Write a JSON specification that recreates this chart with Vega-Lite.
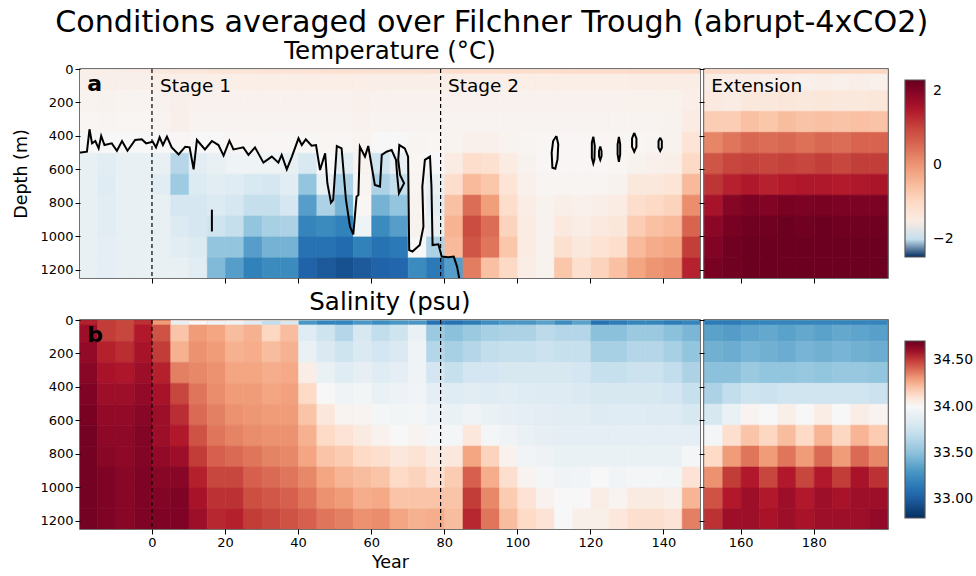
{"$schema":"https://vega.github.io/schema/vega-lite/v6.json","background":"white","padding":{"left":12,"top":7,"right":88,"bottom":0},
"title":{"text":"Conditions averaged over Filchner Trough (abrupt-4xCO2)","fontSize":30.2,"fontWeight":"normal","font":"DejaVu Sans","anchor":"start","dx":43,"offset":0},
"config":{"font":"DejaVu Sans","view":{"stroke":"#444","strokeWidth":1.5},"axis":{"domain":false,"grid":false,"tickColor":"#000","tickSize":5,"labelFontSize":13,"labelColor":"#000","titleFontSize":17.5,"titleFontWeight":"normal","titleColor":"#000","labelFont":"DejaVu Sans","titleFont":"DejaVu Sans"},"axisY":{"titlePadding":9},"legend":{"labelFont":"DejaVu Sans","labelFontSize":14,"labelColor":"#000"}},
"datasets":{
"tm":[
{"x":-20,"d":0,"v":-1.62},{"x":-20,"d":125,"v":-1.72},{"x":-20,"d":250,"v":-1.78},{"x":-20,"d":375,"v":-1.85},{"x":-20,"d":500,"v":-1.9},{"x":-20,"d":625,"v":-1.9},{"x":-20,"d":750,"v":-1.9},{"x":-20,"d":875,"v":-1.9},{"x":-20,"d":1000,"v":-1.9},{"x":-20,"d":1125,"v":-1.9},
{"x":-15,"d":0,"v":-1.62},{"x":-15,"d":125,"v":-1.7},{"x":-15,"d":250,"v":-1.76},{"x":-15,"d":375,"v":-1.85},{"x":-15,"d":500,"v":-1.92},{"x":-15,"d":625,"v":-1.93},{"x":-15,"d":750,"v":-1.92},{"x":-15,"d":875,"v":-1.92},{"x":-15,"d":1000,"v":-1.91},{"x":-15,"d":1125,"v":-1.91},
{"x":-10,"d":0,"v":-1.62},{"x":-10,"d":125,"v":-1.72},{"x":-10,"d":250,"v":-1.78},{"x":-10,"d":375,"v":-1.85},{"x":-10,"d":500,"v":-1.9},{"x":-10,"d":625,"v":-1.9},{"x":-10,"d":750,"v":-1.9},{"x":-10,"d":875,"v":-1.9},{"x":-10,"d":1000,"v":-1.9},{"x":-10,"d":1125,"v":-1.9},
{"x":-5,"d":0,"v":-1.62},{"x":-5,"d":125,"v":-1.74},{"x":-5,"d":250,"v":-1.78},{"x":-5,"d":375,"v":-1.85},{"x":-5,"d":500,"v":-1.9},{"x":-5,"d":625,"v":-1.9},{"x":-5,"d":750,"v":-1.9},{"x":-5,"d":875,"v":-1.9},{"x":-5,"d":1000,"v":-1.9},{"x":-5,"d":1125,"v":-1.9},
{"x":0,"d":0,"v":-1.6},{"x":0,"d":125,"v":-1.68},{"x":0,"d":250,"v":-1.74},{"x":0,"d":375,"v":-1.85},{"x":0,"d":500,"v":-1.9},{"x":0,"d":625,"v":-1.92},{"x":0,"d":750,"v":-1.9},{"x":0,"d":875,"v":-1.9},{"x":0,"d":1000,"v":-1.9},{"x":0,"d":1125,"v":-1.9},
{"x":5,"d":0,"v":-1.6},{"x":5,"d":125,"v":-1.62},{"x":5,"d":250,"v":-1.62},{"x":5,"d":375,"v":-1.8},{"x":5,"d":500,"v":-2.03},{"x":5,"d":625,"v":-2.08},{"x":5,"d":750,"v":-1.96},{"x":5,"d":875,"v":-1.94},{"x":5,"d":1000,"v":-1.92},{"x":5,"d":1125,"v":-1.9},
{"x":10,"d":0,"v":-1.6},{"x":10,"d":125,"v":-1.68},{"x":10,"d":250,"v":-1.74},{"x":10,"d":375,"v":-1.85},{"x":10,"d":500,"v":-1.92},{"x":10,"d":625,"v":-1.94},{"x":10,"d":750,"v":-1.96},{"x":10,"d":875,"v":-1.96},{"x":10,"d":1000,"v":-1.94},{"x":10,"d":1125,"v":-1.92},
{"x":15,"d":0,"v":-1.6},{"x":15,"d":125,"v":-1.68},{"x":15,"d":250,"v":-1.74},{"x":15,"d":375,"v":-1.85},{"x":15,"d":500,"v":-1.9},{"x":15,"d":625,"v":-1.92},{"x":15,"d":750,"v":-1.94},{"x":15,"d":875,"v":-1.98},{"x":15,"d":1000,"v":-2.1},{"x":15,"d":1125,"v":-2.13},
{"x":20,"d":0,"v":-1.58},{"x":20,"d":125,"v":-1.68},{"x":20,"d":250,"v":-1.74},{"x":20,"d":375,"v":-1.8},{"x":20,"d":500,"v":-1.88},{"x":20,"d":625,"v":-1.93},{"x":20,"d":750,"v":-1.96},{"x":20,"d":875,"v":-2.0},{"x":20,"d":1000,"v":-2.1},{"x":20,"d":1125,"v":-2.2},
{"x":25,"d":0,"v":-1.58},{"x":25,"d":125,"v":-1.68},{"x":25,"d":250,"v":-1.74},{"x":25,"d":375,"v":-1.8},{"x":25,"d":500,"v":-1.88},{"x":25,"d":625,"v":-1.95},{"x":25,"d":750,"v":-2.0},{"x":25,"d":875,"v":-2.1},{"x":25,"d":1000,"v":-2.2},{"x":25,"d":1125,"v":-2.28},
{"x":30,"d":0,"v":-1.58},{"x":30,"d":125,"v":-1.68},{"x":30,"d":250,"v":-1.74},{"x":30,"d":375,"v":-1.8},{"x":30,"d":500,"v":-1.88},{"x":30,"d":625,"v":-1.96},{"x":30,"d":750,"v":-2.0},{"x":30,"d":875,"v":-2.06},{"x":30,"d":1000,"v":-2.15},{"x":30,"d":1125,"v":-2.25},
{"x":35,"d":0,"v":-1.58},{"x":35,"d":125,"v":-1.68},{"x":35,"d":250,"v":-1.74},{"x":35,"d":375,"v":-1.82},{"x":35,"d":500,"v":-1.9},{"x":35,"d":625,"v":-1.92},{"x":35,"d":750,"v":-1.96},{"x":35,"d":875,"v":-2.05},{"x":35,"d":1000,"v":-2.15},{"x":35,"d":1125,"v":-2.25},
{"x":40,"d":0,"v":-1.58},{"x":40,"d":125,"v":-1.68},{"x":40,"d":250,"v":-1.74},{"x":40,"d":375,"v":-1.82},{"x":40,"d":500,"v":-1.95},{"x":40,"d":625,"v":-2.1},{"x":40,"d":750,"v":-2.2},{"x":40,"d":875,"v":-2.27},{"x":40,"d":1000,"v":-2.32},{"x":40,"d":1125,"v":-2.36},
{"x":45,"d":0,"v":-1.58},{"x":45,"d":125,"v":-1.68},{"x":45,"d":250,"v":-1.74},{"x":45,"d":375,"v":-1.78},{"x":45,"d":500,"v":-1.85},{"x":45,"d":625,"v":-1.9},{"x":45,"d":750,"v":-2.05},{"x":45,"d":875,"v":-2.25},{"x":45,"d":1000,"v":-2.32},{"x":45,"d":1125,"v":-2.38},
{"x":50,"d":0,"v":-1.58},{"x":50,"d":125,"v":-1.68},{"x":50,"d":250,"v":-1.74},{"x":50,"d":375,"v":-1.8},{"x":50,"d":500,"v":-1.92},{"x":50,"d":625,"v":-2.05},{"x":50,"d":750,"v":-2.15},{"x":50,"d":875,"v":-2.28},{"x":50,"d":1000,"v":-2.34},{"x":50,"d":1125,"v":-2.4},
{"x":55,"d":0,"v":-1.58},{"x":55,"d":125,"v":-1.65},{"x":55,"d":250,"v":-1.68},{"x":55,"d":375,"v":-1.72},{"x":55,"d":500,"v":-1.72},{"x":55,"d":625,"v":-1.75},{"x":55,"d":750,"v":-1.78},{"x":55,"d":875,"v":-1.88},{"x":55,"d":1000,"v":-2.28},{"x":55,"d":1125,"v":-2.38},
{"x":60,"d":0,"v":-1.6},{"x":60,"d":125,"v":-1.68},{"x":60,"d":250,"v":-1.74},{"x":60,"d":375,"v":-1.85},{"x":60,"d":500,"v":-1.98},{"x":60,"d":625,"v":-2.05},{"x":60,"d":750,"v":-2.15},{"x":60,"d":875,"v":-2.25},{"x":60,"d":1000,"v":-2.32},{"x":60,"d":1125,"v":-2.36},
{"x":65,"d":0,"v":-1.6},{"x":65,"d":125,"v":-1.68},{"x":65,"d":250,"v":-1.74},{"x":65,"d":375,"v":-1.85},{"x":65,"d":500,"v":-1.9},{"x":65,"d":625,"v":-2.0},{"x":65,"d":750,"v":-2.1},{"x":65,"d":875,"v":-2.2},{"x":65,"d":1000,"v":-2.3},{"x":65,"d":1125,"v":-2.35},
{"x":70,"d":0,"v":-1.6},{"x":70,"d":125,"v":-1.68},{"x":70,"d":250,"v":-1.74},{"x":70,"d":375,"v":-1.76},{"x":70,"d":500,"v":-1.78},{"x":70,"d":625,"v":-1.75},{"x":70,"d":750,"v":-1.72},{"x":70,"d":875,"v":-1.7},{"x":70,"d":1000,"v":-1.85},{"x":70,"d":1125,"v":-2.25},
{"x":75,"d":0,"v":-1.6},{"x":75,"d":125,"v":-1.68},{"x":75,"d":250,"v":-1.74},{"x":75,"d":375,"v":-1.78},{"x":75,"d":500,"v":-1.85},{"x":75,"d":625,"v":-1.9},{"x":75,"d":750,"v":-1.92},{"x":75,"d":875,"v":-1.9},{"x":75,"d":1000,"v":-2.05},{"x":75,"d":1125,"v":-2.3},
{"x":80,"d":0,"v":-1.6},{"x":80,"d":125,"v":-1.68},{"x":80,"d":250,"v":-1.74},{"x":80,"d":375,"v":-1.72},{"x":80,"d":500,"v":-1.5},{"x":80,"d":625,"v":-1.1},{"x":80,"d":750,"v":-0.6},{"x":80,"d":875,"v":-0.4},{"x":80,"d":1000,"v":-0.5},{"x":80,"d":1125,"v":-2.2},
{"x":85,"d":0,"v":-1.6},{"x":85,"d":125,"v":-1.68},{"x":85,"d":250,"v":-1.74},{"x":85,"d":375,"v":-1.65},{"x":85,"d":500,"v":-1.1},{"x":85,"d":625,"v":-0.5},{"x":85,"d":750,"v":0.5},{"x":85,"d":875,"v":0.9},{"x":85,"d":1000,"v":0.8},{"x":85,"d":1125,"v":0.3},
{"x":90,"d":0,"v":-1.6},{"x":90,"d":125,"v":-1.68},{"x":90,"d":250,"v":-1.74},{"x":90,"d":375,"v":-1.65},{"x":90,"d":500,"v":-1.2},{"x":90,"d":625,"v":-0.7},{"x":90,"d":750,"v":-0.1},{"x":90,"d":875,"v":0.5},{"x":90,"d":1000,"v":0.4},{"x":90,"d":1125,"v":-0.6},
{"x":95,"d":0,"v":-1.6},{"x":95,"d":125,"v":-1.68},{"x":95,"d":250,"v":-1.74},{"x":95,"d":375,"v":-1.72},{"x":95,"d":500,"v":-1.5},{"x":95,"d":625,"v":-1.3},{"x":95,"d":750,"v":-1.1},{"x":95,"d":875,"v":-0.9},{"x":95,"d":1000,"v":-0.7},{"x":95,"d":1125,"v":-1.0},
{"x":100,"d":0,"v":-1.58},{"x":100,"d":125,"v":-1.68},{"x":100,"d":250,"v":-1.74},{"x":100,"d":375,"v":-1.76},{"x":100,"d":500,"v":-1.7},{"x":100,"d":625,"v":-1.65},{"x":100,"d":750,"v":-1.55},{"x":100,"d":875,"v":-1.5},{"x":100,"d":1000,"v":-1.5},{"x":100,"d":1125,"v":-1.55},
{"x":105,"d":0,"v":-1.58},{"x":105,"d":125,"v":-1.68},{"x":105,"d":250,"v":-1.74},{"x":105,"d":375,"v":-1.8},{"x":105,"d":500,"v":-1.8},{"x":105,"d":625,"v":-1.75},{"x":105,"d":750,"v":-1.7},{"x":105,"d":875,"v":-1.7},{"x":105,"d":1000,"v":-1.7},{"x":105,"d":1125,"v":-1.7},
{"x":110,"d":0,"v":-1.58},{"x":110,"d":125,"v":-1.68},{"x":110,"d":250,"v":-1.74},{"x":110,"d":375,"v":-1.8},{"x":110,"d":500,"v":-1.8},{"x":110,"d":625,"v":-1.75},{"x":110,"d":750,"v":-1.6},{"x":110,"d":875,"v":-1.45},{"x":110,"d":1000,"v":-1.2},{"x":110,"d":1125,"v":-0.7},
{"x":115,"d":0,"v":-1.58},{"x":115,"d":125,"v":-1.68},{"x":115,"d":250,"v":-1.74},{"x":115,"d":375,"v":-1.8},{"x":115,"d":500,"v":-1.8},{"x":115,"d":625,"v":-1.75},{"x":115,"d":750,"v":-1.65},{"x":115,"d":875,"v":-1.55},{"x":115,"d":1000,"v":-1.4},{"x":115,"d":1125,"v":-1.15},
{"x":120,"d":0,"v":-1.58},{"x":120,"d":125,"v":-1.68},{"x":120,"d":250,"v":-1.74},{"x":120,"d":375,"v":-1.8},{"x":120,"d":500,"v":-1.8},{"x":120,"d":625,"v":-1.75},{"x":120,"d":750,"v":-1.6},{"x":120,"d":875,"v":-1.45},{"x":120,"d":1000,"v":-1.25},{"x":120,"d":1125,"v":-0.9},
{"x":125,"d":0,"v":-1.58},{"x":125,"d":125,"v":-1.68},{"x":125,"d":250,"v":-1.74},{"x":125,"d":375,"v":-1.78},{"x":125,"d":500,"v":-1.78},{"x":125,"d":625,"v":-1.7},{"x":125,"d":750,"v":-1.5},{"x":125,"d":875,"v":-1.35},{"x":125,"d":1000,"v":-1.1},{"x":125,"d":1125,"v":-0.6},
{"x":130,"d":0,"v":-1.55},{"x":130,"d":125,"v":-1.66},{"x":130,"d":250,"v":-1.74},{"x":130,"d":375,"v":-1.78},{"x":130,"d":500,"v":-1.7},{"x":130,"d":625,"v":-1.4},{"x":130,"d":750,"v":-1.1},{"x":130,"d":875,"v":-0.8},{"x":130,"d":1000,"v":-0.5},{"x":130,"d":1125,"v":-0.2},
{"x":135,"d":0,"v":-1.55},{"x":135,"d":125,"v":-1.66},{"x":135,"d":250,"v":-1.74},{"x":135,"d":375,"v":-1.75},{"x":135,"d":500,"v":-1.65},{"x":135,"d":625,"v":-1.4},{"x":135,"d":750,"v":-1.0},{"x":135,"d":875,"v":-0.6},{"x":135,"d":1000,"v":-0.3},{"x":135,"d":1125,"v":0},
{"x":140,"d":0,"v":-1.55},{"x":140,"d":125,"v":-1.66},{"x":140,"d":250,"v":-1.7},{"x":140,"d":375,"v":-1.7},{"x":140,"d":500,"v":-1.6},{"x":140,"d":625,"v":-1.3},{"x":140,"d":750,"v":-0.9},{"x":140,"d":875,"v":-0.5},{"x":140,"d":1000,"v":-0.2},{"x":140,"d":1125,"v":0.1},
{"x":145,"d":0,"v":-1.55},{"x":145,"d":125,"v":-1.6},{"x":145,"d":250,"v":-1.5},{"x":145,"d":375,"v":-1.3},{"x":145,"d":500,"v":-1.0},{"x":145,"d":625,"v":-0.5},{"x":145,"d":750,"v":0.1},{"x":145,"d":875,"v":0.6},{"x":145,"d":1000,"v":1.1},{"x":145,"d":1125,"v":1.4}],
"te":[
{"x":150,"d":0,"v":-1.55},{"x":150,"d":125,"v":-1.45},{"x":150,"d":250,"v":-0.8},{"x":150,"d":375,"v":0.2},{"x":150,"d":500,"v":0.8},{"x":150,"d":625,"v":1.2},{"x":150,"d":750,"v":1.6},{"x":150,"d":875,"v":1.9},{"x":150,"d":1000,"v":2.0},{"x":150,"d":1125,"v":2.1},
{"x":155,"d":0,"v":-1.6},{"x":155,"d":125,"v":-1.5},{"x":155,"d":250,"v":-0.8},{"x":155,"d":375,"v":0.4},{"x":155,"d":500,"v":1.0},{"x":155,"d":625,"v":1.4},{"x":155,"d":750,"v":1.95},{"x":155,"d":875,"v":2.1},{"x":155,"d":1000,"v":2.2},{"x":155,"d":1125,"v":2.2},
{"x":160,"d":0,"v":-1.6},{"x":160,"d":125,"v":-1.4},{"x":160,"d":250,"v":-0.6},{"x":160,"d":375,"v":0.55},{"x":160,"d":500,"v":1.05},{"x":160,"d":625,"v":1.5},{"x":160,"d":750,"v":2.05},{"x":160,"d":875,"v":2.2},{"x":160,"d":1000,"v":2.25},{"x":160,"d":1125,"v":2.25},
{"x":165,"d":0,"v":-1.65},{"x":165,"d":125,"v":-1.4},{"x":165,"d":250,"v":-0.7},{"x":165,"d":375,"v":0.5},{"x":165,"d":500,"v":1.0},{"x":165,"d":625,"v":1.4},{"x":165,"d":750,"v":2.0},{"x":165,"d":875,"v":2.2},{"x":165,"d":1000,"v":2.25},{"x":165,"d":1125,"v":2.25},
{"x":170,"d":0,"v":-1.6},{"x":170,"d":125,"v":-1.35},{"x":170,"d":250,"v":-0.55},{"x":170,"d":375,"v":0.55},{"x":170,"d":500,"v":1.05},{"x":170,"d":625,"v":1.45},{"x":170,"d":750,"v":2.1},{"x":170,"d":875,"v":2.25},{"x":170,"d":1000,"v":2.25},{"x":170,"d":1125,"v":2.25},
{"x":175,"d":0,"v":-1.65},{"x":175,"d":125,"v":-1.4},{"x":175,"d":250,"v":-0.65},{"x":175,"d":375,"v":0.45},{"x":175,"d":500,"v":1.0},{"x":175,"d":625,"v":1.5},{"x":175,"d":750,"v":2.05},{"x":175,"d":875,"v":2.2},{"x":175,"d":1000,"v":2.25},{"x":175,"d":1125,"v":2.25},
{"x":180,"d":0,"v":-1.6},{"x":180,"d":125,"v":-1.35},{"x":180,"d":250,"v":-0.6},{"x":180,"d":375,"v":0.55},{"x":180,"d":500,"v":1.1},{"x":180,"d":625,"v":1.5},{"x":180,"d":750,"v":2.1},{"x":180,"d":875,"v":2.25},{"x":180,"d":1000,"v":2.25},{"x":180,"d":1125,"v":2.25},
{"x":185,"d":0,"v":-1.65},{"x":185,"d":125,"v":-1.4},{"x":185,"d":250,"v":-0.65},{"x":185,"d":375,"v":0.5},{"x":185,"d":500,"v":1.0},{"x":185,"d":625,"v":1.45},{"x":185,"d":750,"v":2.05},{"x":185,"d":875,"v":2.2},{"x":185,"d":1000,"v":2.25},{"x":185,"d":1125,"v":2.25},
{"x":190,"d":0,"v":-1.6},{"x":190,"d":125,"v":-1.4},{"x":190,"d":250,"v":-0.6},{"x":190,"d":375,"v":0.6},{"x":190,"d":500,"v":1.1},{"x":190,"d":625,"v":1.5},{"x":190,"d":750,"v":2.05},{"x":190,"d":875,"v":2.2},{"x":190,"d":1000,"v":2.25},{"x":190,"d":1125,"v":2.25},
{"x":195,"d":0,"v":-1.65},{"x":195,"d":125,"v":-1.35},{"x":195,"d":250,"v":-0.65},{"x":195,"d":375,"v":0.6},{"x":195,"d":500,"v":1.1},{"x":195,"d":625,"v":1.55},{"x":195,"d":750,"v":2.05},{"x":195,"d":875,"v":2.2},{"x":195,"d":1000,"v":2.25},{"x":195,"d":1125,"v":2.25}],
"ts":[{"x":-20,"d":0,"v":-1.6},{"x":-15,"d":0,"v":-1.6},{"x":-10,"d":0,"v":-1.55},{"x":-5,"d":0,"v":-1.55},{"x":0,"d":0,"v":-1.4},{"x":5,"d":0,"v":-1.35},{"x":10,"d":0,"v":-1.35},{"x":15,"d":0,"v":-1.3},{"x":20,"d":0,"v":-1.3},{"x":25,"d":0,"v":-1.3},{"x":30,"d":0,"v":-1.25},{"x":35,"d":0,"v":-1.25},{"x":40,"d":0,"v":-1.25},{"x":45,"d":0,"v":-1.2},{"x":50,"d":0,"v":-1.2},{"x":55,"d":0,"v":-1.2},{"x":60,"d":0,"v":-1.2},{"x":65,"d":0,"v":-1.2},{"x":70,"d":0,"v":-1.2},{"x":75,"d":0,"v":-1.15},{"x":80,"d":0,"v":-1.1},{"x":85,"d":0,"v":-1.1},{"x":90,"d":0,"v":-1.1},{"x":95,"d":0,"v":-1.1},{"x":100,"d":0,"v":-1.1},{"x":105,"d":0,"v":-1.1},{"x":110,"d":0,"v":-1.05},{"x":115,"d":0,"v":-1.05},{"x":120,"d":0,"v":-1.05},{"x":125,"d":0,"v":-1.05},{"x":130,"d":0,"v":-1.0},{"x":135,"d":0,"v":-1.0},{"x":140,"d":0,"v":-1.0},{"x":145,"d":0,"v":-1.0},{"x":150,"d":0,"v":-1.0},{"x":155,"d":0,"v":-1.0},{"x":160,"d":0,"v":-0.95},{"x":165,"d":0,"v":-0.95},{"x":170,"d":0,"v":-0.95},{"x":175,"d":0,"v":-0.95},{"x":180,"d":0,"v":-0.95},{"x":185,"d":0,"v":-0.95},{"x":190,"d":0,"v":-0.95},{"x":195,"d":0,"v":-0.95}],
"sm":[
{"x":-20,"d":0,"v":34.6},{"x":-20,"d":125,"v":34.62},{"x":-20,"d":250,"v":34.64},{"x":-20,"d":375,"v":34.66},{"x":-20,"d":500,"v":34.67},{"x":-20,"d":625,"v":34.68},{"x":-20,"d":750,"v":34.68},{"x":-20,"d":875,"v":34.68},{"x":-20,"d":1000,"v":34.68},{"x":-20,"d":1125,"v":34.68},
{"x":-15,"d":0,"v":34.5},{"x":-15,"d":125,"v":34.55},{"x":-15,"d":250,"v":34.58},{"x":-15,"d":375,"v":34.6},{"x":-15,"d":500,"v":34.62},{"x":-15,"d":625,"v":34.63},{"x":-15,"d":750,"v":34.64},{"x":-15,"d":875,"v":34.66},{"x":-15,"d":1000,"v":34.66},{"x":-15,"d":1125,"v":34.66},
{"x":-10,"d":0,"v":34.48},{"x":-10,"d":125,"v":34.53},{"x":-10,"d":250,"v":34.57},{"x":-10,"d":375,"v":34.6},{"x":-10,"d":500,"v":34.62},{"x":-10,"d":625,"v":34.63},{"x":-10,"d":750,"v":34.63},{"x":-10,"d":875,"v":34.64},{"x":-10,"d":1000,"v":34.64},{"x":-10,"d":1125,"v":34.64},
{"x":-5,"d":0,"v":34.56},{"x":-5,"d":125,"v":34.58},{"x":-5,"d":250,"v":34.6},{"x":-5,"d":375,"v":34.62},{"x":-5,"d":500,"v":34.64},{"x":-5,"d":625,"v":34.65},{"x":-5,"d":750,"v":34.65},{"x":-5,"d":875,"v":34.66},{"x":-5,"d":1000,"v":34.66},{"x":-5,"d":1125,"v":34.66},
{"x":0,"d":0,"v":34.45},{"x":0,"d":125,"v":34.5},{"x":0,"d":250,"v":34.55},{"x":0,"d":375,"v":34.58},{"x":0,"d":500,"v":34.6},{"x":0,"d":625,"v":34.6},{"x":0,"d":750,"v":34.62},{"x":0,"d":875,"v":34.64},{"x":0,"d":1000,"v":34.65},{"x":0,"d":1125,"v":34.66},
{"x":5,"d":0,"v":34.2},{"x":5,"d":125,"v":34.25},{"x":5,"d":250,"v":34.36},{"x":5,"d":375,"v":34.48},{"x":5,"d":500,"v":34.53},{"x":5,"d":625,"v":34.56},{"x":5,"d":750,"v":34.6},{"x":5,"d":875,"v":34.64},{"x":5,"d":1000,"v":34.66},{"x":5,"d":1125,"v":34.66},
{"x":10,"d":0,"v":34.3},{"x":10,"d":125,"v":34.32},{"x":10,"d":250,"v":34.34},{"x":10,"d":375,"v":34.38},{"x":10,"d":500,"v":34.4},{"x":10,"d":625,"v":34.45},{"x":10,"d":750,"v":34.5},{"x":10,"d":875,"v":34.55},{"x":10,"d":1000,"v":34.58},{"x":10,"d":1125,"v":34.6},
{"x":15,"d":0,"v":34.28},{"x":15,"d":125,"v":34.3},{"x":15,"d":250,"v":34.32},{"x":15,"d":375,"v":34.33},{"x":15,"d":500,"v":34.36},{"x":15,"d":625,"v":34.38},{"x":15,"d":750,"v":34.42},{"x":15,"d":875,"v":34.48},{"x":15,"d":1000,"v":34.52},{"x":15,"d":1125,"v":34.54},
{"x":20,"d":0,"v":34.22},{"x":20,"d":125,"v":34.25},{"x":20,"d":250,"v":34.28},{"x":20,"d":375,"v":34.3},{"x":20,"d":500,"v":34.32},{"x":20,"d":625,"v":34.35},{"x":20,"d":750,"v":34.4},{"x":20,"d":875,"v":34.48},{"x":20,"d":1000,"v":34.52},{"x":20,"d":1125,"v":34.55},
{"x":25,"d":0,"v":34.25},{"x":25,"d":125,"v":34.26},{"x":25,"d":250,"v":34.28},{"x":25,"d":375,"v":34.3},{"x":25,"d":500,"v":34.31},{"x":25,"d":625,"v":34.33},{"x":25,"d":750,"v":34.38},{"x":25,"d":875,"v":34.42},{"x":25,"d":1000,"v":34.46},{"x":25,"d":1125,"v":34.5},
{"x":30,"d":0,"v":34.15},{"x":30,"d":125,"v":34.22},{"x":30,"d":250,"v":34.26},{"x":30,"d":375,"v":34.28},{"x":30,"d":500,"v":34.3},{"x":30,"d":625,"v":34.32},{"x":30,"d":750,"v":34.35},{"x":30,"d":875,"v":34.4},{"x":30,"d":1000,"v":34.44},{"x":30,"d":1125,"v":34.48},
{"x":35,"d":0,"v":34.22},{"x":35,"d":125,"v":34.25},{"x":35,"d":250,"v":34.27},{"x":35,"d":375,"v":34.29},{"x":35,"d":500,"v":34.3},{"x":35,"d":625,"v":34.32},{"x":35,"d":750,"v":34.34},{"x":35,"d":875,"v":34.38},{"x":35,"d":1000,"v":34.42},{"x":35,"d":1125,"v":34.45},
{"x":40,"d":0,"v":33.85},{"x":40,"d":125,"v":33.92},{"x":40,"d":250,"v":34.05},{"x":40,"d":375,"v":34.14},{"x":40,"d":500,"v":34.2},{"x":40,"d":625,"v":34.25},{"x":40,"d":750,"v":34.28},{"x":40,"d":875,"v":34.34},{"x":40,"d":1000,"v":34.38},{"x":40,"d":1125,"v":34.42},
{"x":45,"d":0,"v":33.75},{"x":45,"d":125,"v":33.82},{"x":45,"d":250,"v":33.92},{"x":45,"d":375,"v":34.0},{"x":45,"d":500,"v":34.08},{"x":45,"d":625,"v":34.14},{"x":45,"d":750,"v":34.2},{"x":45,"d":875,"v":34.28},{"x":45,"d":1000,"v":34.32},{"x":45,"d":1125,"v":34.38},
{"x":50,"d":0,"v":33.65},{"x":50,"d":125,"v":33.75},{"x":50,"d":250,"v":33.85},{"x":50,"d":375,"v":33.95},{"x":50,"d":500,"v":34.02},{"x":50,"d":625,"v":34.1},{"x":50,"d":750,"v":34.18},{"x":50,"d":875,"v":34.24},{"x":50,"d":1000,"v":34.3},{"x":50,"d":1125,"v":34.36},
{"x":55,"d":0,"v":33.8},{"x":55,"d":125,"v":33.82},{"x":55,"d":250,"v":33.9},{"x":55,"d":375,"v":33.97},{"x":55,"d":500,"v":34.02},{"x":55,"d":625,"v":34.06},{"x":55,"d":750,"v":34.14},{"x":55,"d":875,"v":34.22},{"x":55,"d":1000,"v":34.26},{"x":55,"d":1125,"v":34.32},
{"x":60,"d":0,"v":33.7},{"x":60,"d":125,"v":33.78},{"x":60,"d":250,"v":33.85},{"x":60,"d":375,"v":33.92},{"x":60,"d":500,"v":33.98},{"x":60,"d":625,"v":34.03},{"x":60,"d":750,"v":34.12},{"x":60,"d":875,"v":34.2},{"x":60,"d":1000,"v":34.27},{"x":60,"d":1125,"v":34.33},
{"x":65,"d":0,"v":33.75},{"x":65,"d":125,"v":33.82},{"x":65,"d":250,"v":33.88},{"x":65,"d":375,"v":33.93},{"x":65,"d":500,"v":33.97},{"x":65,"d":625,"v":34.0},{"x":65,"d":750,"v":34.08},{"x":65,"d":875,"v":34.14},{"x":65,"d":1000,"v":34.2},{"x":65,"d":1125,"v":34.28},
{"x":70,"d":0,"v":33.92},{"x":70,"d":125,"v":33.95},{"x":70,"d":250,"v":33.95},{"x":70,"d":375,"v":33.96},{"x":70,"d":500,"v":33.98},{"x":70,"d":625,"v":34.02},{"x":70,"d":750,"v":34.1},{"x":70,"d":875,"v":34.16},{"x":70,"d":1000,"v":34.2},{"x":70,"d":1125,"v":34.25},
{"x":75,"d":0,"v":33.55},{"x":75,"d":125,"v":33.65},{"x":75,"d":250,"v":33.78},{"x":75,"d":375,"v":33.88},{"x":75,"d":500,"v":33.93},{"x":75,"d":625,"v":33.98},{"x":75,"d":750,"v":34.06},{"x":75,"d":875,"v":34.12},{"x":75,"d":1000,"v":34.2},{"x":75,"d":1125,"v":34.26},
{"x":80,"d":0,"v":33.5},{"x":80,"d":125,"v":33.6},{"x":80,"d":250,"v":33.72},{"x":80,"d":375,"v":33.85},{"x":80,"d":500,"v":33.92},{"x":80,"d":625,"v":33.98},{"x":80,"d":750,"v":34.08},{"x":80,"d":875,"v":34.18},{"x":80,"d":1000,"v":34.2},{"x":80,"d":1125,"v":34.22},
{"x":85,"d":0,"v":33.55},{"x":85,"d":125,"v":33.65},{"x":85,"d":250,"v":33.78},{"x":85,"d":375,"v":33.86},{"x":85,"d":500,"v":33.95},{"x":85,"d":625,"v":34.08},{"x":85,"d":750,"v":34.28},{"x":85,"d":875,"v":34.42},{"x":85,"d":1000,"v":34.5},{"x":85,"d":1125,"v":34.54},
{"x":90,"d":0,"v":33.6},{"x":90,"d":125,"v":33.7},{"x":90,"d":250,"v":33.78},{"x":90,"d":375,"v":33.85},{"x":90,"d":500,"v":33.92},{"x":90,"d":625,"v":33.98},{"x":90,"d":750,"v":34.16},{"x":90,"d":875,"v":34.26},{"x":90,"d":1000,"v":34.34},{"x":90,"d":1125,"v":34.38},
{"x":95,"d":0,"v":33.62},{"x":95,"d":125,"v":33.72},{"x":95,"d":250,"v":33.8},{"x":95,"d":375,"v":33.86},{"x":95,"d":500,"v":33.9},{"x":95,"d":625,"v":33.95},{"x":95,"d":750,"v":34.03},{"x":95,"d":875,"v":34.12},{"x":95,"d":1000,"v":34.18},{"x":95,"d":1125,"v":34.22},
{"x":100,"d":0,"v":33.62},{"x":100,"d":125,"v":33.72},{"x":100,"d":250,"v":33.8},{"x":100,"d":375,"v":33.85},{"x":100,"d":500,"v":33.88},{"x":100,"d":625,"v":33.92},{"x":100,"d":750,"v":33.96},{"x":100,"d":875,"v":34.02},{"x":100,"d":1000,"v":34.1},{"x":100,"d":1125,"v":34.14},
{"x":105,"d":0,"v":33.68},{"x":105,"d":125,"v":33.74},{"x":105,"d":250,"v":33.8},{"x":105,"d":375,"v":33.84},{"x":105,"d":500,"v":33.87},{"x":105,"d":625,"v":33.9},{"x":105,"d":750,"v":33.94},{"x":105,"d":875,"v":33.98},{"x":105,"d":1000,"v":34.03},{"x":105,"d":1125,"v":34.1},
{"x":110,"d":0,"v":33.65},{"x":110,"d":125,"v":33.72},{"x":110,"d":250,"v":33.8},{"x":110,"d":375,"v":33.84},{"x":110,"d":500,"v":33.86},{"x":110,"d":625,"v":33.88},{"x":110,"d":750,"v":33.92},{"x":110,"d":875,"v":33.95},{"x":110,"d":1000,"v":34.0},{"x":110,"d":1125,"v":34.0},
{"x":115,"d":0,"v":33.65},{"x":115,"d":125,"v":33.72},{"x":115,"d":250,"v":33.78},{"x":115,"d":375,"v":33.82},{"x":115,"d":500,"v":33.86},{"x":115,"d":625,"v":33.88},{"x":115,"d":750,"v":33.92},{"x":115,"d":875,"v":33.96},{"x":115,"d":1000,"v":34.0},{"x":115,"d":1125,"v":34.04},
{"x":120,"d":0,"v":33.5},{"x":120,"d":125,"v":33.6},{"x":120,"d":250,"v":33.72},{"x":120,"d":375,"v":33.8},{"x":120,"d":500,"v":33.84},{"x":120,"d":625,"v":33.88},{"x":120,"d":750,"v":33.92},{"x":120,"d":875,"v":34.0},{"x":120,"d":1000,"v":34.05},{"x":120,"d":1125,"v":34.04},
{"x":125,"d":0,"v":33.5},{"x":125,"d":125,"v":33.6},{"x":125,"d":250,"v":33.72},{"x":125,"d":375,"v":33.8},{"x":125,"d":500,"v":33.85},{"x":125,"d":625,"v":33.88},{"x":125,"d":750,"v":33.92},{"x":125,"d":875,"v":33.96},{"x":125,"d":1000,"v":34.02},{"x":125,"d":1125,"v":34.08},
{"x":130,"d":0,"v":33.55},{"x":130,"d":125,"v":33.65},{"x":130,"d":250,"v":33.74},{"x":130,"d":375,"v":33.8},{"x":130,"d":500,"v":33.85},{"x":130,"d":625,"v":33.88},{"x":130,"d":750,"v":33.92},{"x":130,"d":875,"v":33.98},{"x":130,"d":1000,"v":34.06},{"x":130,"d":1125,"v":34.12},
{"x":135,"d":0,"v":33.55},{"x":135,"d":125,"v":33.65},{"x":135,"d":250,"v":33.74},{"x":135,"d":375,"v":33.8},{"x":135,"d":500,"v":33.84},{"x":135,"d":625,"v":33.88},{"x":135,"d":750,"v":33.92},{"x":135,"d":875,"v":33.98},{"x":135,"d":1000,"v":34.06},{"x":135,"d":1125,"v":34.12},
{"x":140,"d":0,"v":33.5},{"x":140,"d":125,"v":33.6},{"x":140,"d":250,"v":33.7},{"x":140,"d":375,"v":33.78},{"x":140,"d":500,"v":33.84},{"x":140,"d":625,"v":33.88},{"x":140,"d":750,"v":33.92},{"x":140,"d":875,"v":33.97},{"x":140,"d":1000,"v":34.04},{"x":140,"d":1125,"v":34.1},
{"x":145,"d":0,"v":33.45},{"x":145,"d":125,"v":33.52},{"x":145,"d":250,"v":33.62},{"x":145,"d":375,"v":33.72},{"x":145,"d":500,"v":33.8},{"x":145,"d":625,"v":33.88},{"x":145,"d":750,"v":33.98},{"x":145,"d":875,"v":34.1},{"x":145,"d":1000,"v":34.24},{"x":145,"d":1125,"v":34.36}],
"se":[
{"x":150,"d":0,"v":33.35},{"x":150,"d":125,"v":33.42},{"x":150,"d":250,"v":33.5},{"x":150,"d":375,"v":33.62},{"x":150,"d":500,"v":33.8},{"x":150,"d":625,"v":33.98},{"x":150,"d":750,"v":34.14},{"x":150,"d":875,"v":34.32},{"x":150,"d":1000,"v":34.45},{"x":150,"d":1125,"v":34.52},
{"x":155,"d":0,"v":33.33},{"x":155,"d":125,"v":33.4},{"x":155,"d":250,"v":33.5},{"x":155,"d":375,"v":33.7},{"x":155,"d":500,"v":33.92},{"x":155,"d":625,"v":34.12},{"x":155,"d":750,"v":34.3},{"x":155,"d":875,"v":34.5},{"x":155,"d":1000,"v":34.56},{"x":155,"d":1125,"v":34.6},
{"x":160,"d":0,"v":33.36},{"x":160,"d":125,"v":33.44},{"x":160,"d":250,"v":33.55},{"x":160,"d":375,"v":33.75},{"x":160,"d":500,"v":34.02},{"x":160,"d":625,"v":34.2},{"x":160,"d":750,"v":34.38},{"x":160,"d":875,"v":34.56},{"x":160,"d":1000,"v":34.6},{"x":160,"d":1125,"v":34.6},
{"x":165,"d":0,"v":33.38},{"x":165,"d":125,"v":33.42},{"x":165,"d":250,"v":33.52},{"x":165,"d":375,"v":33.74},{"x":165,"d":500,"v":34.0},{"x":165,"d":625,"v":34.15},{"x":165,"d":750,"v":34.3},{"x":165,"d":875,"v":34.48},{"x":165,"d":1000,"v":34.56},{"x":165,"d":1125,"v":34.58},
{"x":170,"d":0,"v":33.35},{"x":170,"d":125,"v":33.4},{"x":170,"d":250,"v":33.52},{"x":170,"d":375,"v":33.76},{"x":170,"d":500,"v":34.04},{"x":170,"d":625,"v":34.22},{"x":170,"d":750,"v":34.38},{"x":170,"d":875,"v":34.56},{"x":170,"d":1000,"v":34.6},{"x":170,"d":1125,"v":34.6},
{"x":175,"d":0,"v":33.38},{"x":175,"d":125,"v":33.44},{"x":175,"d":250,"v":33.54},{"x":175,"d":375,"v":33.76},{"x":175,"d":500,"v":34.0},{"x":175,"d":625,"v":34.14},{"x":175,"d":750,"v":34.3},{"x":175,"d":875,"v":34.48},{"x":175,"d":1000,"v":34.56},{"x":175,"d":1125,"v":34.58},
{"x":180,"d":0,"v":33.35},{"x":180,"d":125,"v":33.42},{"x":180,"d":250,"v":33.52},{"x":180,"d":375,"v":33.76},{"x":180,"d":500,"v":34.05},{"x":180,"d":625,"v":34.24},{"x":180,"d":750,"v":34.4},{"x":180,"d":875,"v":34.56},{"x":180,"d":1000,"v":34.6},{"x":180,"d":1125,"v":34.6},
{"x":185,"d":0,"v":33.38},{"x":185,"d":125,"v":33.44},{"x":185,"d":250,"v":33.54},{"x":185,"d":375,"v":33.76},{"x":185,"d":500,"v":34.0},{"x":185,"d":625,"v":34.15},{"x":185,"d":750,"v":34.3},{"x":185,"d":875,"v":34.5},{"x":185,"d":1000,"v":34.58},{"x":185,"d":1125,"v":34.6},
{"x":190,"d":0,"v":33.36},{"x":190,"d":125,"v":33.42},{"x":190,"d":250,"v":33.54},{"x":190,"d":375,"v":33.76},{"x":190,"d":500,"v":34.05},{"x":190,"d":625,"v":34.24},{"x":190,"d":750,"v":34.4},{"x":190,"d":875,"v":34.58},{"x":190,"d":1000,"v":34.6},{"x":190,"d":1125,"v":34.6},
{"x":195,"d":0,"v":33.34},{"x":195,"d":125,"v":33.4},{"x":195,"d":250,"v":33.52},{"x":195,"d":375,"v":33.74},{"x":195,"d":500,"v":34.02},{"x":195,"d":625,"v":34.18},{"x":195,"d":750,"v":34.34},{"x":195,"d":875,"v":34.52},{"x":195,"d":1000,"v":34.6},{"x":195,"d":1125,"v":34.62}],
"ss":[{"x":-20,"d":0,"v":34.55},{"x":-15,"d":0,"v":34.5},{"x":-10,"d":0,"v":34.48},{"x":-5,"d":0,"v":34.52},{"x":0,"d":0,"v":34.3},{"x":5,"d":0,"v":33.9},{"x":10,"d":0,"v":34.0},{"x":15,"d":0,"v":33.95},{"x":20,"d":0,"v":33.95},{"x":25,"d":0,"v":33.85},{"x":30,"d":0,"v":33.7},{"x":35,"d":0,"v":33.8},{"x":40,"d":0,"v":33.3},{"x":45,"d":0,"v":33.2},{"x":50,"d":0,"v":33.2},{"x":55,"d":0,"v":33.3},{"x":60,"d":0,"v":33.25},{"x":65,"d":0,"v":33.3},{"x":70,"d":0,"v":33.3},{"x":75,"d":0,"v":33.1},{"x":80,"d":0,"v":33.1},{"x":85,"d":0,"v":33.15},{"x":90,"d":0,"v":33.25},{"x":95,"d":0,"v":33.3},{"x":100,"d":0,"v":33.3},{"x":105,"d":0,"v":33.35},{"x":110,"d":0,"v":33.25},{"x":115,"d":0,"v":33.35},{"x":120,"d":0,"v":33.1},{"x":125,"d":0,"v":33.15},{"x":130,"d":0,"v":33.2},{"x":135,"d":0,"v":33.2},{"x":140,"d":0,"v":33.15},{"x":145,"d":0,"v":33.2},{"x":150,"d":0,"v":33.15},{"x":155,"d":0,"v":33.15},{"x":160,"d":0,"v":33.2},{"x":165,"d":0,"v":33.2},{"x":170,"d":0,"v":33.2},{"x":175,"d":0,"v":33.2},{"x":180,"d":0,"v":33.2},{"x":185,"d":0,"v":33.2},{"x":190,"d":0,"v":33.2},{"x":195,"d":0,"v":33.2}],
"iso":[
{"id":0,"i":1,"x":-19.7,"d":499},{"id":0,"i":2,"x":-19.4,"d":499},{"id":0,"i":3,"x":-17.8,"d":494},{"id":0,"i":4,"x":-17.1,"d":360},{"id":0,"i":5,"x":-16.4,"d":444},{"id":0,"i":6,"x":-15.5,"d":430},{"id":0,"i":7,"x":-14.6,"d":474},{"id":0,"i":8,"x":-13.9,"d":400},{"id":0,"i":9,"x":-13,"d":454},{"id":0,"i":10,"x":-11,"d":444},{"id":0,"i":11,"x":-9.6,"d":488},{"id":0,"i":12,"x":-8.2,"d":430},{"id":0,"i":13,"x":-6.7,"d":488},{"id":0,"i":14,"x":-4.6,"d":424},{"id":0,"i":15,"x":-2.8,"d":420},{"id":0,"i":16,"x":-1.6,"d":444},{"id":0,"i":17,"x":0.2,"d":434},{"id":0,"i":18,"x":1.1,"d":468},{"id":0,"i":19,"x":2.1,"d":408},{"id":0,"i":20,"x":3,"d":454},{"id":0,"i":21,"x":4.1,"d":404},{"id":0,"i":22,"x":5.4,"d":468},{"id":0,"i":23,"x":7.3,"d":510},{"id":0,"i":24,"x":9.1,"d":464},{"id":0,"i":25,"x":10.3,"d":468},{"id":0,"i":26,"x":11.4,"d":599},{"id":0,"i":27,"x":12.3,"d":424},{"id":0,"i":28,"x":14.5,"d":480},{"id":0,"i":29,"x":16.4,"d":430},{"id":0,"i":30,"x":18.2,"d":454},{"id":0,"i":31,"x":19.6,"d":517},{"id":0,"i":32,"x":21.2,"d":428},{"id":0,"i":33,"x":22.3,"d":480},{"id":0,"i":34,"x":23.7,"d":474},{"id":0,"i":35,"x":25,"d":468},{"id":0,"i":36,"x":26.4,"d":513},{"id":0,"i":37,"x":28.2,"d":468},{"id":0,"i":38,"x":30.5,"d":559},{"id":0,"i":39,"x":32.8,"d":523},{"id":0,"i":40,"x":34.6,"d":559},{"id":0,"i":41,"x":35.5,"d":513},{"id":0,"i":42,"x":36.9,"d":599},{"id":0,"i":43,"x":38.3,"d":523},{"id":0,"i":44,"x":40.1,"d":414},{"id":0,"i":45,"x":41,"d":454},{"id":0,"i":46,"x":42.1,"d":420},{"id":0,"i":47,"x":43.7,"d":458},{"id":0,"i":48,"x":44.9,"d":454},{"id":0,"i":49,"x":46,"d":603},{"id":0,"i":50,"x":47.4,"d":503},{"id":0,"i":51,"x":48,"d":682},{"id":0,"i":52,"x":49,"d":798},{"id":0,"i":53,"x":49.6,"d":782},{"id":0,"i":54,"x":50.6,"d":460},{"id":0,"i":55,"x":51.9,"d":474},{"id":0,"i":56,"x":53.1,"d":782},{"id":0,"i":57,"x":54.2,"d":941},{"id":0,"i":58,"x":55.1,"d":987},{"id":0,"i":59,"x":56,"d":762},{"id":0,"i":60,"x":56.5,"d":752},{"id":0,"i":61,"x":56.9,"d":464},{"id":0,"i":62,"x":58.3,"d":523},{"id":0,"i":63,"x":59.2,"d":460},{"id":0,"i":64,"x":61,"d":692},{"id":0,"i":65,"x":62.4,"d":702},{"id":0,"i":66,"x":62.9,"d":513},{"id":0,"i":67,"x":64.2,"d":494},{"id":0,"i":68,"x":65.6,"d":484},{"id":0,"i":69,"x":66.8,"d":543},{"id":0,"i":70,"x":67.1,"d":633},{"id":0,"i":71,"x":67.6,"d":742},{"id":0,"i":72,"x":69,"d":682},{"id":0,"i":73,"x":67.9,"d":633},{"id":0,"i":74,"x":67.4,"d":543},{"id":0,"i":75,"x":67.7,"d":454},{"id":0,"i":76,"x":69.2,"d":474},{"id":0,"i":77,"x":70.1,"d":523},{"id":0,"i":78,"x":70.4,"d":1081},{"id":0,"i":79,"x":71.3,"d":1090},{"id":0,"i":80,"x":73.3,"d":1051},{"id":0,"i":81,"x":74.3,"d":941},{"id":0,"i":82,"x":74,"d":702},{"id":0,"i":83,"x":74.7,"d":543},{"id":0,"i":84,"x":76.1,"d":523},{"id":0,"i":85,"x":76.5,"d":702},{"id":0,"i":86,"x":76.8,"d":1051},{"id":0,"i":87,"x":78.4,"d":1047},{"id":0,"i":88,"x":79.3,"d":1120},{"id":0,"i":89,"x":81.1,"d":1124},{"id":0,"i":90,"x":82.6,"d":1120},{"id":0,"i":91,"x":83.5,"d":1180},{"id":0,"i":92,"x":84.1,"d":1250},
{"id":1,"i":1,"x":16.4,"d":840},{"id":1,"i":2,"x":16.4,"d":970},
{"id":2,"i":1,"x":110.7,"d":400},{"id":2,"i":2,"x":111.2,"d":450},{"id":2,"i":3,"x":111,"d":540},{"id":2,"i":4,"x":110.4,"d":595},{"id":2,"i":5,"x":109.6,"d":590},{"id":2,"i":6,"x":109.4,"d":500},{"id":2,"i":7,"x":109.8,"d":430},{"id":2,"i":8,"x":110.7,"d":400},
{"id":3,"i":1,"x":120.8,"d":404},{"id":3,"i":2,"x":121.2,"d":460},{"id":3,"i":3,"x":121.1,"d":540},{"id":3,"i":4,"x":120.8,"d":564},{"id":3,"i":5,"x":120.4,"d":530},{"id":3,"i":6,"x":120.4,"d":440},{"id":3,"i":7,"x":120.8,"d":404},
{"id":4,"i":1,"x":122.7,"d":463},{"id":4,"i":2,"x":123.05,"d":490},{"id":4,"i":3,"x":123.05,"d":520},{"id":4,"i":4,"x":122.7,"d":543},{"id":4,"i":5,"x":122.35,"d":520},{"id":4,"i":6,"x":122.35,"d":490},{"id":4,"i":7,"x":122.7,"d":463},
{"id":5,"i":1,"x":127.8,"d":405},{"id":5,"i":2,"x":128.15,"d":450},{"id":5,"i":3,"x":128.15,"d":510},{"id":5,"i":4,"x":127.8,"d":555},{"id":5,"i":5,"x":127.45,"d":510},{"id":5,"i":6,"x":127.45,"d":450},{"id":5,"i":7,"x":127.8,"d":405},
{"id":6,"i":1,"x":132,"d":382},{"id":6,"i":2,"x":132.6,"d":415},{"id":6,"i":3,"x":132.6,"d":465},{"id":6,"i":4,"x":132,"d":494},{"id":6,"i":5,"x":131.4,"d":465},{"id":6,"i":6,"x":131.4,"d":415},{"id":6,"i":7,"x":132,"d":382},
{"id":7,"i":1,"x":139.1,"d":410},{"id":7,"i":2,"x":139.55,"d":430},{"id":7,"i":3,"x":139.55,"d":470},{"id":7,"i":4,"x":139.1,"d":490},{"id":7,"i":5,"x":138.65,"d":470},{"id":7,"i":6,"x":138.65,"d":430},{"id":7,"i":7,"x":139.1,"d":410}]
},
"vconcat":[
{"hconcat":[
{"width":620,"height":209,"title":{"text":"Temperature (°C)","fontSize":24.5,"fontWeight":"normal","offset":-1,"anchor":"middle"},
"encoding":{"x":{"field":"x","type":"quantitative","scale":{"domain":[-19.7,150],"nice":false,"zero":false},"axis":{"values":[0,20,40,60,80,100,120,140],"labels":false,"title":null}},"y":{"field":"d","type":"quantitative","scale":{"domain":[0,1248],"reverse":true,"nice":false,"zero":false},"axis":{"values":[0,200,400,600,800,1000,1200],"title":"Depth (m)","format":"d"}}},
"layer":[
{"data":{"name":"tm"},"mark":{"type":"rect","clip":true,"strokeWidth":0.6},"encoding":{"x":{"field":"x","type":"quantitative","bin":{"step":5,"extent":[-20,150]},"scale":{"domain":[-19.7,150],"nice":false,"zero":false},"axis":{"values":[0,20,40,60,80,100,120,140],"labels":false,"title":null}},"y":{"field":"d","type":"quantitative","bin":{"step":125,"extent":[0,1250]},"scale":{"domain":[0,1248],"reverse":true,"nice":false,"zero":false},"axis":{"values":[0,200,400,600,800,1000,1200],"title":"Depth (m)","format":"d"}},"color":{"field":"v","type":"quantitative","legend":null,"scale":{"domain":[-2.48,-2.354,-2.228,-2.102,-1.976,-1.85,-1.02,-0.19,0.64,1.47,2.3],"range":["#053061","#2166ac","#4393c3","#92c5de","#d1e5f0","#f7f7f7","#fddbc7","#f4a582","#d6604d","#b2182b","#67001f"]}},"stroke":{"field":"v","type":"quantitative","legend":null,"scale":{"domain":[-2.481,-2.354,-2.228,-2.102,-1.976,-1.85,-1.02,-0.19,0.64,1.47,2.3],"range":["#053061","#2166ac","#4393c3","#92c5de","#d1e5f0","#f7f7f7","#fddbc7","#f4a582","#d6604d","#b2182b","#67001f"]}}}},
{"data":{"name":"ts"},"transform":[{"filter":"datum.x<150"}],"mark":{"type":"rect","clip":true},"encoding":{"x":{"field":"x","type":"quantitative","bin":{"step":5,"extent":[-20,150]},"scale":{"domain":[-19.7,150],"nice":false,"zero":false},"axis":{"values":[0,20,40,60,80,100,120,140],"labels":false,"title":null}},"y":{"field":"d","type":"quantitative","bin":{"step":25,"extent":[0,1250]},"scale":{"domain":[0,1248],"reverse":true,"nice":false,"zero":false},"axis":{"values":[0,200,400,600,800,1000,1200],"title":"Depth (m)","format":"d"}},"color":{"field":"v","type":"quantitative","legend":null,"scale":{"domain":[-2.48,-2.354,-2.228,-2.102,-1.976,-1.85,-1.02,-0.19,0.64,1.47,2.3],"range":["#053061","#2166ac","#4393c3","#92c5de","#d1e5f0","#f7f7f7","#fddbc7","#f4a582","#d6604d","#b2182b","#67001f"]}}}},
{"data":{"values":[{"x":0},{"x":79}]},"mark":{"type":"rule","strokeDash":[4,3],"color":"#000","strokeWidth":1.2},"encoding":{"y":null}},
{"data":{"name":"iso"},"mark":{"type":"line","color":"#000","strokeWidth":2,"clip":true},"encoding":{"detail":{"field":"id"},"order":{"field":"i","type":"quantitative"}}},
{"data":{"values":[{"x":-17.7,"d":90,"t":"a"}]},"mark":{"type":"text","align":"left","baseline":"middle","fontSize":22,"fontWeight":"bold","color":"#000"},"encoding":{"text":{"field":"t"}}},
{"data":{"values":[{"x":2.2,"d":100,"t":"Stage 1"},{"x":81,"d":100,"t":"Stage 2"}]},"mark":{"type":"text","align":"left","baseline":"middle","fontSize":18.5,"color":"#000"},"encoding":{"text":{"field":"t"}}}
]},
{"width":184,"height":209,
"encoding":{"x":{"field":"x","type":"quantitative","scale":{"domain":[150,200.3],"nice":false,"zero":false},"axis":{"values":[160,180],"labels":false,"title":null}},"y":{"field":"d","type":"quantitative","scale":{"domain":[0,1248],"reverse":true,"nice":false,"zero":false},"axis":{"values":[0,200,400,600,800,1000,1200],"labels":false,"title":null}}},
"layer":[
{"data":{"name":"te"},"mark":{"type":"rect","clip":true,"strokeWidth":0.6},"encoding":{"x":{"field":"x","type":"quantitative","bin":{"step":5,"extent":[150,200]},"scale":{"domain":[150,200.3],"nice":false,"zero":false},"axis":{"values":[160,180],"labels":false,"title":null}},"y":{"field":"d","type":"quantitative","bin":{"step":125,"extent":[0,1250]},"scale":{"domain":[0,1248],"reverse":true,"nice":false,"zero":false},"axis":{"values":[0,200,400,600,800,1000,1200],"labels":false,"title":null}},"color":{"field":"v","type":"quantitative","scale":{"domain":[-2.48,-2.354,-2.228,-2.102,-1.976,-1.85,-1.02,-0.19,0.64,1.47,2.3],"range":["#053061","#2166ac","#4393c3","#92c5de","#d1e5f0","#f7f7f7","#fddbc7","#f4a582","#d6604d","#b2182b","#67001f"]},"legend":{"type":"gradient","direction":"vertical","orient":"none","legendX":201,"legendY":11,"title":null,"gradientLength":177,"gradientThickness":20,"gradientStrokeColor":"#555","gradientStrokeWidth":1.2,"values":[-2,0,2],"format":"d","labelOffset":8}},"stroke":{"field":"v","type":"quantitative","legend":null,"scale":{"domain":[-2.481,-2.354,-2.228,-2.102,-1.976,-1.85,-1.02,-0.19,0.64,1.47,2.3],"range":["#053061","#2166ac","#4393c3","#92c5de","#d1e5f0","#f7f7f7","#fddbc7","#f4a582","#d6604d","#b2182b","#67001f"]}}}},
{"data":{"name":"ts"},"transform":[{"filter":"datum.x>=150"}],"mark":{"type":"rect","clip":true},"encoding":{"x":{"field":"x","type":"quantitative","bin":{"step":5,"extent":[150,200]},"scale":{"domain":[150,200.3],"nice":false,"zero":false},"axis":{"values":[160,180],"labels":false,"title":null}},"y":{"field":"d","type":"quantitative","bin":{"step":25,"extent":[0,1250]},"scale":{"domain":[0,1248],"reverse":true,"nice":false,"zero":false},"axis":{"values":[0,200,400,600,800,1000,1200],"labels":false,"title":null}},"color":{"field":"v","type":"quantitative","legend":null,"scale":{"domain":[-2.48,-2.354,-2.228,-2.102,-1.976,-1.85,-1.02,-0.19,0.64,1.47,2.3],"range":["#053061","#2166ac","#4393c3","#92c5de","#d1e5f0","#f7f7f7","#fddbc7","#f4a582","#d6604d","#b2182b","#67001f"]}}}},
{"data":{"values":[{"x":152,"d":100,"t":"Extension"}]},"mark":{"type":"text","align":"left","baseline":"middle","fontSize":18.5,"color":"#000"},"encoding":{"text":{"field":"t"}}}
]}
],"spacing":4,"bounds":"flush","resolve":{"scale":{"color":"independent","stroke":"independent"},"legend":{"color":"independent","stroke":"independent"}}},
{"hconcat":[
{"width":620,"height":209,"title":{"text":"Salinity (psu)","fontSize":24.5,"fontWeight":"normal","offset":-1,"anchor":"middle"},
"encoding":{"x":{"field":"x","type":"quantitative","scale":{"domain":[-19.7,150],"nice":false,"zero":false},"axis":{"values":[0,20,40,60,80,100,120,140],"title":"Year","format":"d"}},"y":{"field":"d","type":"quantitative","scale":{"domain":[0,1248],"reverse":true,"nice":false,"zero":false},"axis":{"values":[0,200,400,600,800,1000,1200],"title":null,"format":"d"}}},
"layer":[
{"data":{"name":"sm"},"mark":{"type":"rect","clip":true,"strokeWidth":0.6},"encoding":{"x":{"field":"x","type":"quantitative","bin":{"step":5,"extent":[-20,150]},"scale":{"domain":[-19.7,150],"nice":false,"zero":false},"axis":{"values":[0,20,40,60,80,100,120,140],"title":"Year","format":"d"}},"y":{"field":"d","type":"quantitative","bin":{"step":125,"extent":[0,1250]},"scale":{"domain":[0,1248],"reverse":true,"nice":false,"zero":false},"axis":{"values":[0,200,400,600,800,1000,1200],"title":null,"format":"d"}},"color":{"field":"v","type":"quantitative","legend":null,"scale":{"domain":[32.8,33.04,33.28,33.52,33.76,34,34.14,34.28,34.42,34.56,34.705],"range":["#053061","#2166ac","#4393c3","#92c5de","#d1e5f0","#f7f7f7","#fddbc7","#f4a582","#d6604d","#b2182b","#67001f"]}},"stroke":{"field":"v","type":"quantitative","legend":null,"scale":{"domain":[32.801,33.04,33.28,33.52,33.76,34,34.14,34.28,34.42,34.56,34.705],"range":["#053061","#2166ac","#4393c3","#92c5de","#d1e5f0","#f7f7f7","#fddbc7","#f4a582","#d6604d","#b2182b","#67001f"]}}}},
{"data":{"name":"ss"},"transform":[{"filter":"datum.x<150"}],"mark":{"type":"rect","clip":true},"encoding":{"x":{"field":"x","type":"quantitative","bin":{"step":5,"extent":[-20,150]},"scale":{"domain":[-19.7,150],"nice":false,"zero":false},"axis":{"values":[0,20,40,60,80,100,120,140],"title":"Year","format":"d"}},"y":{"field":"d","type":"quantitative","bin":{"step":25,"extent":[0,1250]},"scale":{"domain":[0,1248],"reverse":true,"nice":false,"zero":false},"axis":{"values":[0,200,400,600,800,1000,1200],"title":null,"format":"d"}},"color":{"field":"v","type":"quantitative","legend":null,"scale":{"domain":[32.8,33.04,33.28,33.52,33.76,34,34.14,34.28,34.42,34.56,34.705],"range":["#053061","#2166ac","#4393c3","#92c5de","#d1e5f0","#f7f7f7","#fddbc7","#f4a582","#d6604d","#b2182b","#67001f"]}}}},
{"data":{"values":[{"x":0},{"x":79}]},"mark":{"type":"rule","strokeDash":[4,3],"color":"#000","strokeWidth":1.2},"encoding":{"y":null}},
{"data":{"values":[{"x":-17.7,"d":90,"t":"b"}]},"mark":{"type":"text","align":"left","baseline":"middle","fontSize":22,"fontWeight":"bold","color":"#000"},"encoding":{"text":{"field":"t"}}}
]},
{"width":184,"height":209,
"layer":[
{"data":{"name":"se"},"mark":{"type":"rect","clip":true,"strokeWidth":0.6},"encoding":{"x":{"field":"x","type":"quantitative","bin":{"step":5,"extent":[150,200]},"scale":{"domain":[150,200.3],"nice":false,"zero":false},"axis":{"values":[160,180],"title":null,"format":"d"}},"y":{"field":"d","type":"quantitative","bin":{"step":125,"extent":[0,1250]},"scale":{"domain":[0,1248],"reverse":true,"nice":false,"zero":false},"axis":{"values":[0,200,400,600,800,1000,1200],"labels":false,"title":null}},"color":{"field":"v","type":"quantitative","scale":{"domain":[32.8,33.04,33.28,33.52,33.76,34,34.14,34.28,34.42,34.56,34.705],"range":["#053061","#2166ac","#4393c3","#92c5de","#d1e5f0","#f7f7f7","#fddbc7","#f4a582","#d6604d","#b2182b","#67001f"]},"legend":{"type":"gradient","direction":"vertical","orient":"none","legendX":201,"legendY":21,"title":null,"gradientLength":177,"gradientThickness":20,"gradientStrokeColor":"#555","gradientStrokeWidth":1.2,"values":[33,33.5,34,34.5],"format":".2f","labelOffset":8}},"stroke":{"field":"v","type":"quantitative","legend":null,"scale":{"domain":[32.801,33.04,33.28,33.52,33.76,34,34.14,34.28,34.42,34.56,34.705],"range":["#053061","#2166ac","#4393c3","#92c5de","#d1e5f0","#f7f7f7","#fddbc7","#f4a582","#d6604d","#b2182b","#67001f"]}}}},
{"data":{"name":"ss"},"transform":[{"filter":"datum.x>=150"}],"mark":{"type":"rect","clip":true},"encoding":{"x":{"field":"x","type":"quantitative","bin":{"step":5,"extent":[150,200]},"scale":{"domain":[150,200.3],"nice":false,"zero":false},"axis":{"values":[160,180],"title":null,"format":"d"}},"y":{"field":"d","type":"quantitative","bin":{"step":25,"extent":[0,1250]},"scale":{"domain":[0,1248],"reverse":true,"nice":false,"zero":false},"axis":{"values":[0,200,400,600,800,1000,1200],"labels":false,"title":null}},"color":{"field":"v","type":"quantitative","legend":null,"scale":{"domain":[32.8,33.04,33.28,33.52,33.76,34,34.14,34.28,34.42,34.56,34.705],"range":["#053061","#2166ac","#4393c3","#92c5de","#d1e5f0","#f7f7f7","#fddbc7","#f4a582","#d6604d","#b2182b","#67001f"]}}}}
]}
],"spacing":4,"bounds":"flush","resolve":{"scale":{"color":"independent","stroke":"independent"},"legend":{"color":"independent","stroke":"independent"}}}
],"spacing":3,"resolve":{"scale":{"color":"independent","stroke":"independent"},"legend":{"color":"independent","stroke":"independent"}}}
